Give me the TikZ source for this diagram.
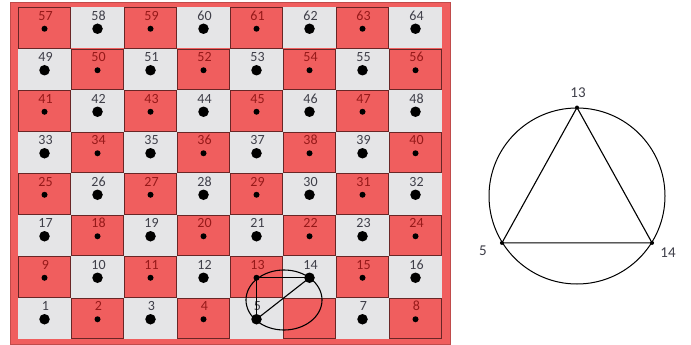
\documentclass[tikz,border=0pt]{standalone}
\usepackage{fontspec}
\setmainfont{Carlito}
\usepackage{tikz}
\usetikzlibrary{positioning}
\definecolor{boardred}{RGB}{240,94,94}
\definecolor{edgered}{RGB}{105,38,38}
\definecolor{lightsq}{RGB}{229,229,231}
\definecolor{numred}{RGB}{150,25,25}
\definecolor{numgray}{RGB}{62,62,72}
\newcommand{\sqx}[1]{18+53*(#1-0.5)}
\newcommand{\sqy}[1]{339-41.5*(#1-0.5)}

\begin{document}
\begin{tikzpicture}[x=1pt, y=-1pt,
    greysq/.style={rectangle, fill=lightsq, minimum width=53pt, minimum height=41.5pt, inner sep=0pt},
    redsq/.style={rectangle, draw=edgered, line width=0.9pt, fill=boardred,
                  minimum width=52pt, minimum height=40.5pt, inner sep=0pt},
    bigdot/.style={circle, fill=black, minimum size=10.5pt, inner sep=0pt},
    smalldot/.style={circle, fill=black, minimum size=6pt, inner sep=0pt},
    vdot/.style={circle, fill=black, minimum size=4pt, inner sep=0pt},
    num/.style={font=\fontsize{14}{16}\selectfont, inner sep=0pt}
]
\useasboundingbox (0,0) rectangle (691,345);
\node[rectangle, fill=boardred, draw=boardred!80!black, line width=0.4pt,
      minimum width=440pt, minimum height=342pt, inner sep=0pt] (board) at (230,173) {};

\foreach \r in {1,...,8} {
  \foreach \c in {1,...,8} {
    \pgfmathtruncatemacro{\n}{8*(\r-1)+\c}
    \pgfmathtruncatemacro{\odd}{mod(\r+\c,2)}
    \ifnum\odd=0
      \node[greysq] (s\n) at ({\sqx{\c}}, {\sqy{\r}}) {};
    \fi
  }
}
\foreach \r in {1,...,8} {
  \foreach \c in {1,...,8} {
    \pgfmathtruncatemacro{\n}{8*(\r-1)+\c}
    \pgfmathtruncatemacro{\odd}{mod(\r+\c,2)}
    \ifnum\odd=1
      \node[redsq] (s\n) at ({\sqx{\c}}, {\sqy{\r}}) {};
    \fi
  }
}

\draw[line width=1.1pt] (284,300) ellipse (38pt and 30pt);

\foreach \r in {1,...,8} {
  \foreach \c in {1,...,8} {
    \pgfmathtruncatemacro{\n}{8*(\r-1)+\c}
    \pgfmathtruncatemacro{\odd}{mod(\r+\c,2)}
    \ifnum\n=6 \else
      \ifnum\odd=0
        \node[num, text=numgray] (n\n) at ({\sqx{\c}+1}, {\sqy{\r}-12}) {\n};
        \node[bigdot] (d\n) at ({\sqx{\c}}, {\sqy{\r}+1}) {};
      \else
        \node[num, text=numred] (n\n) at ({\sqx{\c}+1}, {\sqy{\r}-12}) {\n};
        \node[smalldot] (d\n) at ({\sqx{\c}}, {\sqy{\r}+1}) {};
      \fi
    \fi
  }
}

\draw[line width=1.1pt] (d13.center) -- (d14.center);
\draw[line width=1.1pt] (d13.center) -- (d5.center);
\draw[line width=1.1pt] (d5.center) -- (d14.center);

\node[draw, circle, line width=1pt, minimum size=176pt, inner sep=0pt] (ring) at (577,196) {};
\node[vdot] (v13) at (ring.90) {};
\node[vdot] (v5) at (ring.212) {};
\node[vdot] (v14) at (ring.328) {};
\draw[line width=1.1pt] (v13.center) -- (v14.center) -- (v5.center) -- cycle;
\node[num, text=numgray, font=\fontsize{15}{17}\selectfont] (l13) at (578,93) {13};
\node[num, text=numgray, font=\fontsize{15}{17}\selectfont] (l5) at (483,251) {5};
\node[num, text=numgray, font=\fontsize{15}{17}\selectfont] (l14) at (668,253) {14};
\end{tikzpicture}
\end{document}
